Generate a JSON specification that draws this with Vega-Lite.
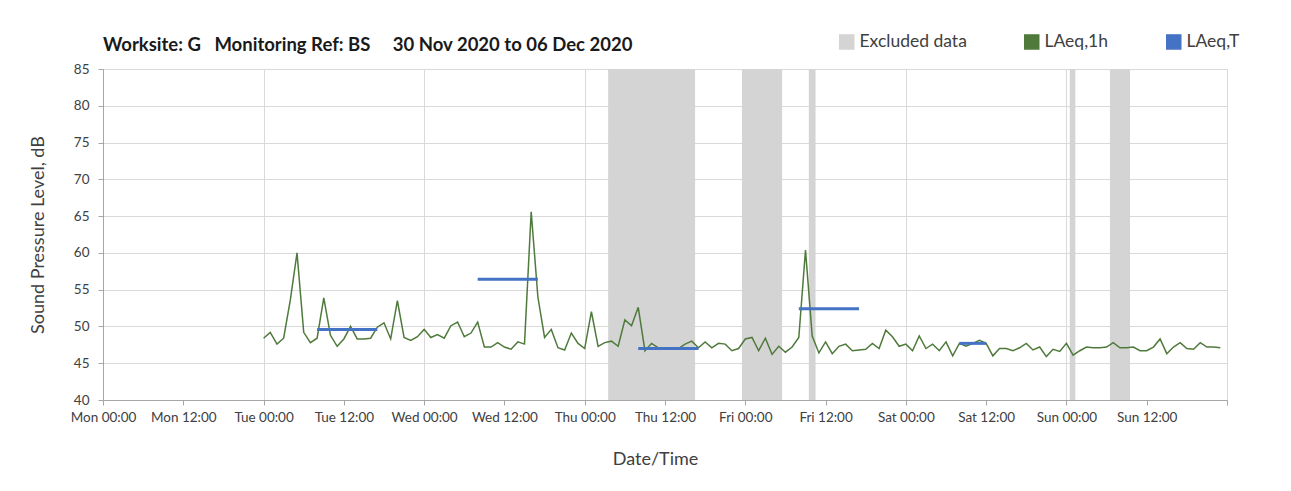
{
  "$schema": "https://vega.github.io/schema/vega-lite/v6.json",
  "width": 1124,
  "height": 331,
  "autosize": {"type": "none"},
  "padding": {"left": 103, "top": 69, "right": 64, "bottom": 91},
  "background": "white",
  "title": {
    "text": "Worksite: G\u00a0\u00a0\u00a0Monitoring Ref: BS\u00a0\u00a0\u00a0\u00a0\u00a030 Nov 2020 to 06 Dec 2020",
    "anchor": "start", "frame": "group", "offset": 21, "dy": 42,
    "fontSize": 18.5, "fontWeight": "bold", "font": "Lato", "color": "#1a1a1a"
  },
  "datasets": {
    "bands": [
      {"a": "2020-12-03T03:30:00Z", "b": "2020-12-03T16:30:00Z"},
      {"a": "2020-12-03T23:30:00Z", "b": "2020-12-04T05:30:00Z"},
      {"a": "2020-12-04T09:30:00Z", "b": "2020-12-04T10:30:00Z"},
      {"a": "2020-12-06T00:30:00Z", "b": "2020-12-06T01:20:00Z"},
      {"a": "2020-12-06T06:30:00Z", "b": "2020-12-06T09:30:00Z"}
    ],
    "periods": [
      {"a": "2020-12-01T08:00:00Z", "b": "2020-12-01T17:00:00Z", "v": 49.6},
      {"a": "2020-12-02T08:00:00Z", "b": "2020-12-02T17:00:00Z", "v": 56.4},
      {"a": "2020-12-03T08:00:00Z", "b": "2020-12-03T17:00:00Z", "v": 47.0},
      {"a": "2020-12-04T08:00:00Z", "b": "2020-12-04T17:00:00Z", "v": 52.4},
      {"a": "2020-12-05T08:00:00Z", "b": "2020-12-05T12:00:00Z", "v": 47.7}
    ],
    "hourly": [
      {"t": "2020-12-01T00:00:00Z", "v": 48.4}, {"t": "2020-12-01T01:00:00Z", "v": 49.2}, {"t": "2020-12-01T02:00:00Z", "v": 47.6}, {"t": "2020-12-01T03:00:00Z", "v": 48.4},
      {"t": "2020-12-01T04:00:00Z", "v": 53.6}, {"t": "2020-12-01T05:00:00Z", "v": 60.0}, {"t": "2020-12-01T06:00:00Z", "v": 49.2}, {"t": "2020-12-01T07:00:00Z", "v": 47.8},
      {"t": "2020-12-01T08:00:00Z", "v": 48.4}, {"t": "2020-12-01T09:00:00Z", "v": 53.9}, {"t": "2020-12-01T10:00:00Z", "v": 48.8}, {"t": "2020-12-01T11:00:00Z", "v": 47.3},
      {"t": "2020-12-01T12:00:00Z", "v": 48.3}, {"t": "2020-12-01T13:00:00Z", "v": 50.0}, {"t": "2020-12-01T14:00:00Z", "v": 48.3}, {"t": "2020-12-01T15:00:00Z", "v": 48.3},
      {"t": "2020-12-01T16:00:00Z", "v": 48.4}, {"t": "2020-12-01T17:00:00Z", "v": 49.9}, {"t": "2020-12-01T18:00:00Z", "v": 50.5}, {"t": "2020-12-01T19:00:00Z", "v": 48.3},
      {"t": "2020-12-01T20:00:00Z", "v": 53.5}, {"t": "2020-12-01T21:00:00Z", "v": 48.5}, {"t": "2020-12-01T22:00:00Z", "v": 48.1}, {"t": "2020-12-01T23:00:00Z", "v": 48.6},
      {"t": "2020-12-02T00:00:00Z", "v": 49.6}, {"t": "2020-12-02T01:00:00Z", "v": 48.5}, {"t": "2020-12-02T02:00:00Z", "v": 48.9}, {"t": "2020-12-02T03:00:00Z", "v": 48.4},
      {"t": "2020-12-02T04:00:00Z", "v": 50.1}, {"t": "2020-12-02T05:00:00Z", "v": 50.6}, {"t": "2020-12-02T06:00:00Z", "v": 48.6}, {"t": "2020-12-02T07:00:00Z", "v": 49.1},
      {"t": "2020-12-02T08:00:00Z", "v": 50.6}, {"t": "2020-12-02T09:00:00Z", "v": 47.2}, {"t": "2020-12-02T10:00:00Z", "v": 47.2}, {"t": "2020-12-02T11:00:00Z", "v": 47.8},
      {"t": "2020-12-02T12:00:00Z", "v": 47.2}, {"t": "2020-12-02T13:00:00Z", "v": 46.9}, {"t": "2020-12-02T14:00:00Z", "v": 47.9}, {"t": "2020-12-02T15:00:00Z", "v": 47.6},
      {"t": "2020-12-02T16:00:00Z", "v": 65.6}, {"t": "2020-12-02T17:00:00Z", "v": 54.0}, {"t": "2020-12-02T18:00:00Z", "v": 48.5}, {"t": "2020-12-02T19:00:00Z", "v": 49.6},
      {"t": "2020-12-02T20:00:00Z", "v": 47.1}, {"t": "2020-12-02T21:00:00Z", "v": 46.8}, {"t": "2020-12-02T22:00:00Z", "v": 49.1}, {"t": "2020-12-02T23:00:00Z", "v": 47.7},
      {"t": "2020-12-03T00:00:00Z", "v": 47.0}, {"t": "2020-12-03T01:00:00Z", "v": 52.0}, {"t": "2020-12-03T02:00:00Z", "v": 47.3}, {"t": "2020-12-03T03:00:00Z", "v": 47.8},
      {"t": "2020-12-03T04:00:00Z", "v": 48.0}, {"t": "2020-12-03T05:00:00Z", "v": 47.3}, {"t": "2020-12-03T06:00:00Z", "v": 50.9}, {"t": "2020-12-03T07:00:00Z", "v": 50.1},
      {"t": "2020-12-03T08:00:00Z", "v": 52.6}, {"t": "2020-12-03T09:00:00Z", "v": 46.7}, {"t": "2020-12-03T10:00:00Z", "v": 47.7}, {"t": "2020-12-03T11:00:00Z", "v": 47.1},
      {"t": "2020-12-03T12:00:00Z", "v": 46.9}, {"t": "2020-12-03T13:00:00Z", "v": 47.0}, {"t": "2020-12-03T14:00:00Z", "v": 47.0}, {"t": "2020-12-03T15:00:00Z", "v": 47.6},
      {"t": "2020-12-03T16:00:00Z", "v": 48.0}, {"t": "2020-12-03T17:00:00Z", "v": 47.1}, {"t": "2020-12-03T18:00:00Z", "v": 47.9}, {"t": "2020-12-03T19:00:00Z", "v": 47.1},
      {"t": "2020-12-03T20:00:00Z", "v": 47.7}, {"t": "2020-12-03T21:00:00Z", "v": 47.6}, {"t": "2020-12-03T22:00:00Z", "v": 46.7}, {"t": "2020-12-03T23:00:00Z", "v": 47.0},
      {"t": "2020-12-04T00:00:00Z", "v": 48.3}, {"t": "2020-12-04T01:00:00Z", "v": 48.5}, {"t": "2020-12-04T02:00:00Z", "v": 46.7}, {"t": "2020-12-04T03:00:00Z", "v": 48.4},
      {"t": "2020-12-04T04:00:00Z", "v": 46.2}, {"t": "2020-12-04T05:00:00Z", "v": 47.3}, {"t": "2020-12-04T06:00:00Z", "v": 46.5}, {"t": "2020-12-04T07:00:00Z", "v": 47.2},
      {"t": "2020-12-04T08:00:00Z", "v": 48.5}, {"t": "2020-12-04T09:00:00Z", "v": 60.4}, {"t": "2020-12-04T10:00:00Z", "v": 48.7}, {"t": "2020-12-04T11:00:00Z", "v": 46.4},
      {"t": "2020-12-04T12:00:00Z", "v": 47.9}, {"t": "2020-12-04T13:00:00Z", "v": 46.3}, {"t": "2020-12-04T14:00:00Z", "v": 47.3}, {"t": "2020-12-04T15:00:00Z", "v": 47.6},
      {"t": "2020-12-04T16:00:00Z", "v": 46.7}, {"t": "2020-12-04T17:00:00Z", "v": 46.8}, {"t": "2020-12-04T18:00:00Z", "v": 46.9}, {"t": "2020-12-04T19:00:00Z", "v": 47.7},
      {"t": "2020-12-04T20:00:00Z", "v": 47.0}, {"t": "2020-12-04T21:00:00Z", "v": 49.5}, {"t": "2020-12-04T22:00:00Z", "v": 48.6}, {"t": "2020-12-04T23:00:00Z", "v": 47.3},
      {"t": "2020-12-05T00:00:00Z", "v": 47.6}, {"t": "2020-12-05T01:00:00Z", "v": 46.7}, {"t": "2020-12-05T02:00:00Z", "v": 48.7}, {"t": "2020-12-05T03:00:00Z", "v": 47.0},
      {"t": "2020-12-05T04:00:00Z", "v": 47.6}, {"t": "2020-12-05T05:00:00Z", "v": 46.7}, {"t": "2020-12-05T06:00:00Z", "v": 47.9}, {"t": "2020-12-05T07:00:00Z", "v": 46.0},
      {"t": "2020-12-05T08:00:00Z", "v": 47.7}, {"t": "2020-12-05T09:00:00Z", "v": 47.3}, {"t": "2020-12-05T10:00:00Z", "v": 47.7}, {"t": "2020-12-05T11:00:00Z", "v": 48.1},
      {"t": "2020-12-05T12:00:00Z", "v": 47.7}, {"t": "2020-12-05T13:00:00Z", "v": 46.0}, {"t": "2020-12-05T14:00:00Z", "v": 47.0}, {"t": "2020-12-05T15:00:00Z", "v": 47.0},
      {"t": "2020-12-05T16:00:00Z", "v": 46.7}, {"t": "2020-12-05T17:00:00Z", "v": 47.1}, {"t": "2020-12-05T18:00:00Z", "v": 47.7}, {"t": "2020-12-05T19:00:00Z", "v": 46.8},
      {"t": "2020-12-05T20:00:00Z", "v": 47.2}, {"t": "2020-12-05T21:00:00Z", "v": 45.9}, {"t": "2020-12-05T22:00:00Z", "v": 46.9}, {"t": "2020-12-05T23:00:00Z", "v": 46.6},
      {"t": "2020-12-06T00:00:00Z", "v": 47.7}, {"t": "2020-12-06T01:00:00Z", "v": 46.1}, {"t": "2020-12-06T02:00:00Z", "v": 46.7}, {"t": "2020-12-06T03:00:00Z", "v": 47.2},
      {"t": "2020-12-06T04:00:00Z", "v": 47.1}, {"t": "2020-12-06T05:00:00Z", "v": 47.1}, {"t": "2020-12-06T06:00:00Z", "v": 47.2}, {"t": "2020-12-06T07:00:00Z", "v": 47.8},
      {"t": "2020-12-06T08:00:00Z", "v": 47.1}, {"t": "2020-12-06T09:00:00Z", "v": 47.1}, {"t": "2020-12-06T10:00:00Z", "v": 47.2}, {"t": "2020-12-06T11:00:00Z", "v": 46.7},
      {"t": "2020-12-06T12:00:00Z", "v": 46.7}, {"t": "2020-12-06T13:00:00Z", "v": 47.2}, {"t": "2020-12-06T14:00:00Z", "v": 48.3}, {"t": "2020-12-06T15:00:00Z", "v": 46.3},
      {"t": "2020-12-06T16:00:00Z", "v": 47.2}, {"t": "2020-12-06T17:00:00Z", "v": 47.8}, {"t": "2020-12-06T18:00:00Z", "v": 47.0}, {"t": "2020-12-06T19:00:00Z", "v": 46.9},
      {"t": "2020-12-06T20:00:00Z", "v": 47.8}, {"t": "2020-12-06T21:00:00Z", "v": 47.2}, {"t": "2020-12-06T22:00:00Z", "v": 47.2}, {"t": "2020-12-06T23:00:00Z", "v": 47.1}
    ]
  },
  "layer": [
    {
      "data": {"name": "bands"},
      "mark": {"type": "rect", "opacity": 1},
      "encoding": {
        "x": {
          "field": "a", "type": "temporal",
          "scale": {"type": "utc", "domain": [{"year": 2020, "month": 11, "date": 30, "utc": true}, {"year": 2020, "month": 12, "date": 7, "utc": true}]},
          "axis": {
            "title": "Date/Time",
            "tickCount": 14,
            "labelExpr": "utcdate(datum.value) == 7 ? '' : utcFormat(datum.value, '%a %H:%M')",
            "labelOverlap": false, "labelFlush": false,
            "grid": true,
            "gridColor": {"condition": {"test": "utchours(datum.value) == 12", "value": "transparent"}, "value": "#d9d9d9"},
            "titleX": 552, "titleY": 59, "titleBaseline": "middle", "titleAlign": "center",
            "labelPadding": 5
          }
        },
        "x2": {"field": "b"},
        "color": {
          "datum": "Excluded data",
          "scale": {"domain": ["Excluded data", "LAeq,1h", "LAeq,T"], "range": ["#d4d4d4", "#4f7a3b", "#4472c4"]},
          "legend": {
            "orient": "none", "legendX": 735, "legendY": -36,
            "direction": "horizontal", "title": null,
            "symbolSize": 196,
            "labelFontSize": 17.5, "labelFont": "Lato", "labelColor": "#404040",
            "columnPadding": 54, "labelOffset": 4,
            "encode": {
              "symbols": {
                "shape": {"condition": [{"test": "datum.value === 'Excluded data'", "value": "M-1,-0.36H1V0.36H-1Z"}, {"test": "datum.value === 'LAeq,1h'", "value": "M-1,-0.05H1V0.05H-1Z"}], "value": "M-1,-0.1H1V0.1H-1Z"},
                "fill": {"condition": [{"test": "datum.value === 'Excluded data'", "value": "#d4d4d4"}, {"test": "datum.value === 'LAeq,1h'", "value": "#4f7a3b"}], "value": "#4472c4"},
                "strokeWidth": {"value": 0}
              }
            }
          }
        }
      }
    },
    {
      "data": {"name": "hourly"},
      "mark": {"type": "line", "strokeWidth": 1.5},
      "encoding": {
        "x": {"field": "t", "type": "temporal"},
        "y": {
          "field": "v", "type": "quantitative",
          "scale": {"domain": [40, 85], "nice": false, "zero": false},
          "axis": {
            "title": "Sound Pressure Level, dB",
            "values": [40, 45, 50, 55, 60, 65, 70, 75, 80, 85],
            "tickCount": 10,
            "titleX": -65, "titleY": 165.5, "titleAngle": 270,
            "titleBaseline": "middle", "titleAlign": "center",
            "labelPadding": 9
          }
        },
        "color": {"datum": "LAeq,1h", "legend": null}
      }
    },
    {
      "data": {"name": "periods"},
      "mark": {"type": "rule", "strokeWidth": 3},
      "encoding": {
        "x": {"field": "a", "type": "temporal"},
        "x2": {"field": "b"},
        "y": {
          "field": "v", "type": "quantitative",
          "axis": {
            "title": "Sound Pressure Level, dB",
            "values": [40, 45, 50, 55, 60, 65, 70, 75, 80, 85],
            "tickCount": 10,
            "titleX": -65, "titleY": 165.5, "titleAngle": 270,
            "titleBaseline": "middle", "titleAlign": "center",
            "labelPadding": 9
          }
        },
        "color": {"datum": "LAeq,T", "legend": null}
      }
    }
  ],
  "config": {
    "font": "Lato",
    "view": {"stroke": "#bfbfbf", "strokeWidth": 1},
    "axis": {
      "labelFont": "Lato", "labelFontSize": 13.5, "labelColor": "#404040",
      "titleFont": "Lato", "titleFontSize": 18, "titleFontWeight": "normal", "titleColor": "#404040",
      "domainColor": "#a6a6a6", "tickColor": "#a6a6a6", "tickSize": 5,
      "gridColor": "#d9d9d9", "gridWidth": 1
    }
  }
}
